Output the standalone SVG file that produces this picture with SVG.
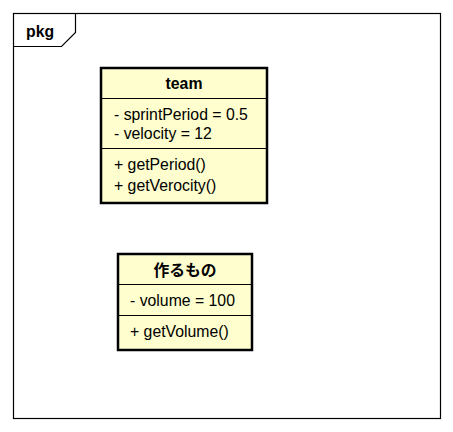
<svg xmlns="http://www.w3.org/2000/svg" width="453" height="432" viewBox="0 0 453 432">
<style>
.frame{fill:none;stroke:#000;stroke-width:1.2}
.cls{fill:#FEFECE;stroke:#000;stroke-width:2.5}
.sep{stroke:#000;stroke-width:1.2}
text{font-family:"Liberation Sans","Noto Sans CJK JP",sans-serif;font-size:15.8px;fill:#000}
.t{font-weight:bold;text-anchor:middle}
</style>
<g id="pkg">
<rect class="frame" x="13.5" y="13.5" width="427" height="405"/>
<path class="frame" d="M13.5,46.5 H61.5 L75.5,32.5 V13.5"/>
<text x="26" y="37" style="font-weight:bold">pkg</text>
</g>
<g id="team">
<rect class="cls" x="101" y="68" width="166" height="135"/>
<line class="sep" x1="101" y1="98.5" x2="267" y2="98.5"/>
<line class="sep" x1="101" y1="148.5" x2="267" y2="148.5"/>
<text class="t" x="184" y="89">team</text>
<text x="114" y="120">- sprintPeriod = 0.5</text>
<text x="114" y="139">- velocity = 12</text>
<text x="114" y="170">+ getPeriod()</text>
<text x="114" y="191">+ getVerocity()</text>
</g>
<g id="tsukurumono">
<rect class="cls" x="118" y="254" width="134" height="96"/>
<line class="sep" x1="118" y1="284.5" x2="252" y2="284.5"/>
<line class="sep" x1="118" y1="315.5" x2="252" y2="315.5"/>
<text class="t" x="185" y="276">作るもの</text>
<text x="130" y="306">- volume = 100</text>
<text x="130" y="337">+ getVolume()</text>
</g>
<g id="connectors"/>
</svg>
